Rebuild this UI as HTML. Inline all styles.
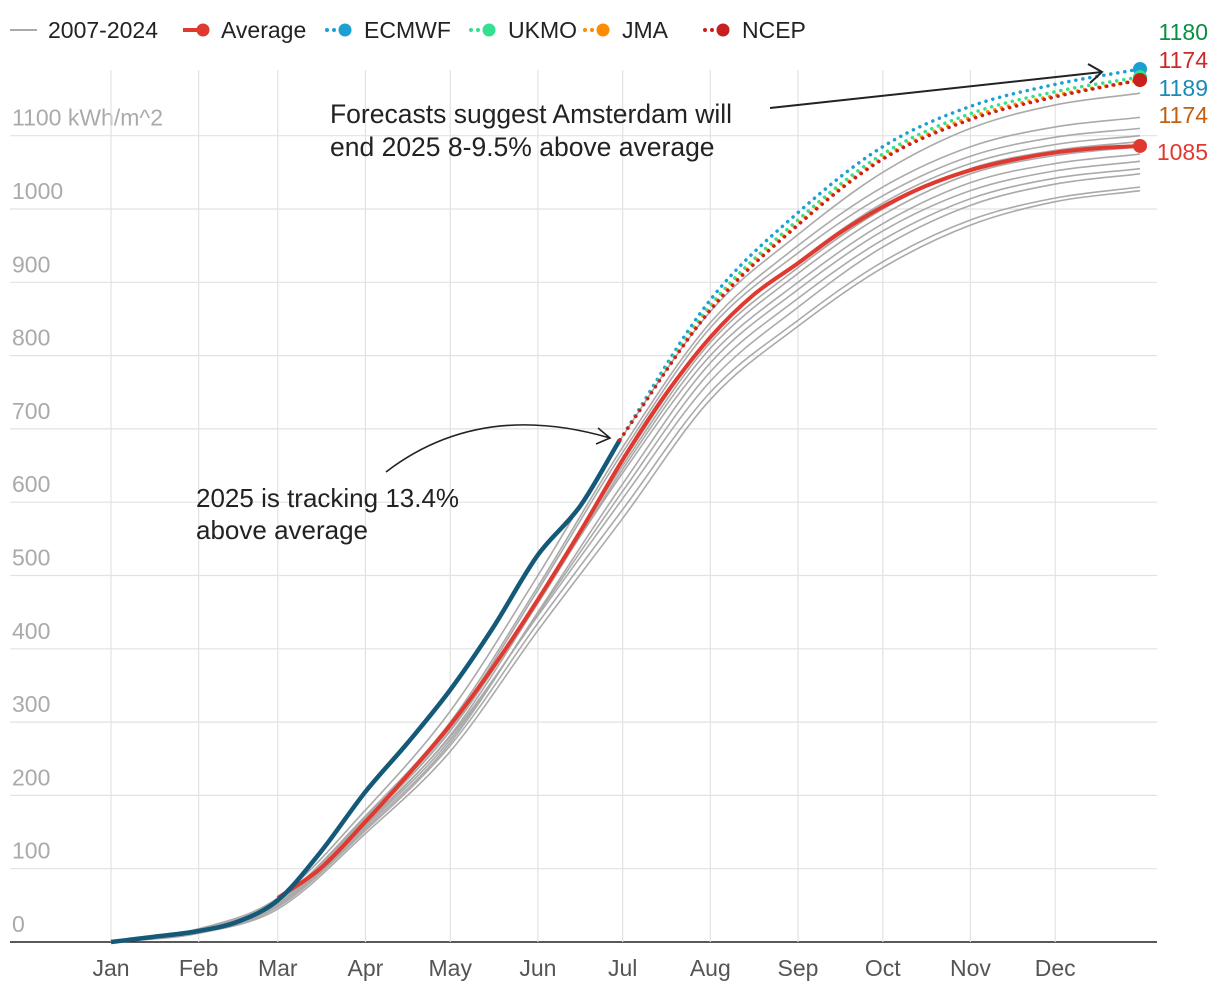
<!DOCTYPE html>
<html><head><meta charset="utf-8">
<style>
body{margin:0;background:#fff;font-family:"Liberation Sans",sans-serif;}
svg text{font-family:"Liberation Sans",sans-serif;}
</style></head>
<body>
<svg id="chart" width="1220" height="992" xmlns="http://www.w3.org/2000/svg"></svg>
<script>
const monthLabels=["Jan","Feb","Mar","Apr","May","Jun","Jul","Aug","Sep","Oct","Nov","Dec"];
const monthDays=[0,31,59,90,120,151,181,212,243,273,304,334,364];
const yTicks=[0,100,200,300,400,500,600,700,800,900,1000,1100];
const avgDays=[59,74,90,105,120,135,151,166,181,196,212,227,243,258,273,288,304,319,334,349,364];
const avgValues=[60,100,164,228,296,374,467,560,658,746,825,882,926,968,1003,1031,1053,1067,1077,1083,1086];
const obs2025Days=[0,15,31,45,59,74,90,105,120,135,151,166,180];
const obs2025=[0,7,15,28,57,122,205,272,344,428,528,595,685];
const fcDays=[180,212,243,273,304,334,364];
const ecmwf=[685,876,995,1085,1140,1170,1191];
const ukmo=[685,868,985,1075,1130,1160,1180];
const jma=[685,864,980,1070,1125,1155,1176];
const ncep=[685,862,978,1068,1122,1153,1176];
const grayYears=[
[0,18,60,180,315,500,690,860,965,1050,1110,1142,1158],
[0,16,56,172,300,485,675,845,950,1030,1085,1112,1125],
[0,17,56,170,295,480,668,838,940,1018,1072,1098,1110],
[0,14,52,165,288,470,655,825,928,1008,1062,1088,1100],
[0,15,55,168,292,468,650,818,920,1000,1055,1080,1092],
[0,13,50,160,282,462,645,810,912,992,1048,1073,1085],
[0,16,55,165,288,465,640,800,900,980,1036,1062,1075],
[0,12,48,155,272,450,625,790,890,970,1025,1052,1065],
[0,14,50,158,276,448,615,778,878,958,1014,1042,1055],
[0,15,52,162,280,445,605,765,866,948,1005,1034,1048],
[0,13,48,152,268,435,590,750,848,928,985,1015,1030],
[0,12,45,148,260,425,578,740,840,920,978,1010,1025]
];
const X=d=>111+d*2.827, Y=v=>942-v*0.733;
const NS="http://www.w3.org/2000/svg";
const svg=document.getElementById('chart');
function el(t,a,p){const e=document.createElementNS(NS,t);for(const k in a)e.setAttribute(k,a[k]);(p||svg).appendChild(e);return e;}
function smooth(xs,ys){
const px=xs.map(X),py=ys.map(Y),n=px.length;
const dl=[],m=[];
for(let i=0;i<n-1;i++)dl.push((py[i+1]-py[i])/(px[i+1]-px[i]));
m[0]=dl[0];m[n-1]=dl[n-2];
for(let i=1;i<n-1;i++){m[i]=(dl[i-1]*dl[i]<=0)?0:(dl[i-1]+dl[i])/2;}
let d="M"+px[0]+","+py[0];
for(let i=0;i<n-1;i++){const h=(px[i+1]-px[i])/3;
d+=" C"+(px[i]+h)+","+(py[i]+m[i]*h)+" "+(px[i+1]-h)+","+(py[i+1]-m[i+1]*h)+" "+px[i+1]+","+py[i+1];}
return d;}
yTicks.forEach(v=>{
const g=el('line',{x1:10,x2:1157,y1:Y(v),y2:Y(v),stroke:v===0?'#222':'#e2e2e2','stroke-width':v===0?1.5:1.2});


const t=el('text',{x:12,y:Y(v)-10,'font-size':23,fill:'#aaa'});t.textContent=v===1100?'1100 kWh/m^2':v;


});
monthLabels.forEach((m,i)=>{
const g=el('line',{x1:X(monthDays[i]),x2:X(monthDays[i]),y1:70,y2:942,stroke:'#e2e2e2','stroke-width':1.2});


const t=el('text',{x:X(monthDays[i]),y:976,'font-size':23,fill:'#555','text-anchor':'middle'});t.textContent=m;


});
grayYears.forEach(a=>{const p=el('path',{d:smooth(monthDays,a),fill:'none',stroke:'#aaa','stroke-width':1.6});

});
const av=el('path',{d:smooth(avgDays,avgValues),fill:'none',stroke:'#e03a30','stroke-width':4});


const ob=el('path',{d:smooth(obs2025Days,obs2025),fill:'none',stroke:'#145a78','stroke-width':4.5});


[[ecmwf,'#1ca0d4','ecmwf'],[ukmo,'#33e090','ukmo'],[jma,'#ff8c00','jma'],[ncep,'#c8201e','ncep']].forEach(([a,c,n])=>{
const p=el('path',{d:smooth(fcDays,a),fill:'none',stroke:c,'stroke-width':3.5,'stroke-dasharray':'0.1 7','stroke-linecap':'round'});


const d=el('circle',{cx:X(364),cy:Y(a[a.length-1]),r:7,fill:c});


});
const ad=el('circle',{cx:X(364),cy:Y(avgValues[avgValues.length-1]),r:7,fill:'#e03a30'});


[["1180","#0a9040",40],["1174","#d02828",68],["1189","#1a8ab8",96],["1174","#c06010",123],["1085","#e03a30",160]].forEach(([t,c,y])=>{
const e=el('text',{x:1208,y:y,'font-size':23,fill:c,'text-anchor':'end'});e.textContent=t;

});
const a1=el('text',{x:330,y:123,'font-size':26.5,fill:'#222'});a1.innerHTML='<tspan x="330">Forecasts suggest Amsterdam will</tspan><tspan x="330" dy="33">end 2025 8-9.5% above average</tspan>';


const a2=el('text',{x:196,y:507,'font-size':26,fill:'#222'});a2.innerHTML='<tspan x="196">2025 is tracking 13.4%</tspan><tspan x="196" dy="32">above average</tspan>';


const ar1=el('path',{d:'M770,108 L1102,72 M1088,64 L1102,72 L1090,83',fill:'none',stroke:'#222','stroke-width':2});


const ar2=el('path',{d:'M386,472 Q480,400 610,438 M598,428 L610,438 L596,444',fill:'none',stroke:'#222','stroke-width':1.6});


const leg=[["2007-2024",'#aaa','line',10],["Average",'#e03a30','solid',183],["ECMWF",'#1ca0d4','dot',326],["UKMO",'#33e090','dot',470],["JMA",'#ff8c00','dot',584],["NCEP",'#c8201e','dot',704]];
leg.forEach(([t,c,k,x])=>{
const g=el('g',{});


if(k==='line'){el('line',{x1:x,x2:x+27,y1:30,y2:30,stroke:c,'stroke-width':2},g);}
else if(k==='solid'){el('line',{x1:x,x2:x+18,y1:30,y2:30,stroke:c,'stroke-width':4},g);el('circle',{cx:x+20,cy:30,r:6.5,fill:c},g);}
else{el('circle',{cx:x+1,cy:30,r:2,fill:c},g);el('circle',{cx:x+8,cy:30,r:2,fill:c},g);el('circle',{cx:x+19,cy:30,r:6.5,fill:c},g);}
const tx=el('text',{x:x+38,y:38,'font-size':23,fill:'#222'},g);tx.textContent=t;
});
</script>
</body></html>
